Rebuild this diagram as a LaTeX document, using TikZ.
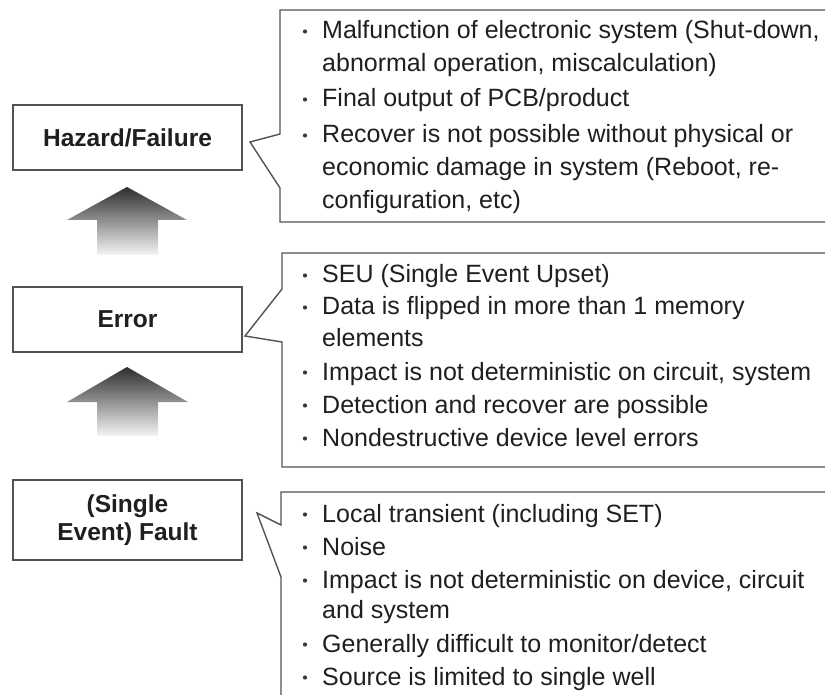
\documentclass[tikz,border=0pt]{standalone}
\usepackage{fontspec}
\setmainfont{Liberation Sans}
\begin{document}
\begin{tikzpicture}[x=1pt,y=-1pt,
  line/.style={draw=black!68, line width=1.4pt, line join=miter},
  lbl/.style={line, fill=white, minimum width=229pt, inner sep=0pt,
    text=black!88, align=center, font=\bfseries\fontsize{24.5}{28}\selectfont},
  itm/.style={anchor=base west, inner sep=0pt, text=black!88,
    font=\fontsize{25}{32}\selectfont},
  blt/.style={circle, fill=black!78, inner sep=0pt, minimum size=4.2pt,
    yshift=7.5pt},
  uparrow/.style={top color=black!82, bottom color=black!4, draw=none}]
\clip (0,0) rectangle (825,695);

% level boxes
\node[lbl, minimum height=65pt] (haz) at (127.5,137.5) {Hazard/Failure};
\node[lbl, minimum height=65pt] (err) at (127.5,319.5) {Error};
\node[lbl, minimum height=80pt] (flt) at (127.5,520) {(Single\\Event) Fault};

% shaded block arrows between the levels
\shade[uparrow] (127,187) -- (187,220) -- (158,220) -- (158,255)
  -- (97,255) -- (97,220) -- (67,220) -- cycle;
\shade[uparrow] (127,367) -- (188,402) -- (158,402) -- (158,436)
  -- (97,436) -- (97,402) -- (67,402) -- cycle;

% callout pointer tips
\coordinate (hazTip) at (250,142);
\coordinate (errTip) at (245,336);
\coordinate (fltTip) at (257,513);

% callout frames (open to the right and bottom)
\draw[line] (840,10) -- (280,10) -- (280,134) -- (hazTip) -- (280,188)
  -- (280,222) -- (840,222);
\draw[line] (840,253) -- (282,253) -- (282,289) -- (errTip) -- (282,342)
  -- (282,467) -- (840,467);
\draw[line] (840,492) -- (281,492) -- (281,525) -- (fltTip) -- (281,577)
  -- (281,710);

% Hazard/Failure items
\node[blt] (hb1) at (305,39) {};
\node[itm, font=\fontsize{25}{33}\selectfont] (h1) at (322,39)
  {\vtop{\hbox{Malfunction of electronic system (Shut-down,}\hbox{abnormal operation, miscalculation)}}};
\node[blt] (hb2) at (305,107) {};
\node[itm] (h2) at (322,107) {Final output of PCB/product};
\node[blt] (hb3) at (305,143) {};
\node[itm, font=\fontsize{25}{33}\selectfont] (h3) at (322,143)
  {\vtop{\hbox{Recover is not possible without physical or}\hbox{economic damage in system (Reboot, re-}\hbox{configuration, etc)}}};

% Error items
\node[blt] (eb1) at (305,283) {};
\node[itm] (e1) at (322,283) {SEU (Single Event Upset)};
\node[blt] (eb2) at (305,315) {};
\node[itm] (e2) at (322,315)
  {\vtop{\hbox{Data is flipped in more than 1 memory}\hbox{elements}}};
\node[blt] (eb3) at (305,380) {};
\node[itm] (e3) at (322,380) {Impact is not deterministic on circuit, system};
\node[blt] (eb4) at (305,413) {};
\node[itm] (e4) at (322,413) {Detection and recover are possible};
\node[blt] (eb5) at (305,446) {};
\node[itm] (e5) at (322,446) {Nondestructive device level errors};

% Fault items
\node[blt] (fb1) at (305,522) {};
\node[itm] (f1) at (322,522) {Local transient (including SET)};
\node[blt] (fb2) at (305,555) {};
\node[itm] (f2) at (322,555) {Noise};
\node[blt] (fb3) at (305,588) {};
\node[itm, font=\fontsize{25}{30.5}\selectfont] (f3) at (322,588)
  {\vtop{\hbox{Impact is not deterministic on device, circuit}\hbox{and system}}};
\node[blt] (fb4) at (305,652) {};
\node[itm] (f4) at (322,652) {Generally difficult to monitor/detect};
\node[blt] (fb5) at (305,685) {};
\node[itm] (f5) at (322,685) {Source is limited to single well};
\end{tikzpicture}
\end{document}
